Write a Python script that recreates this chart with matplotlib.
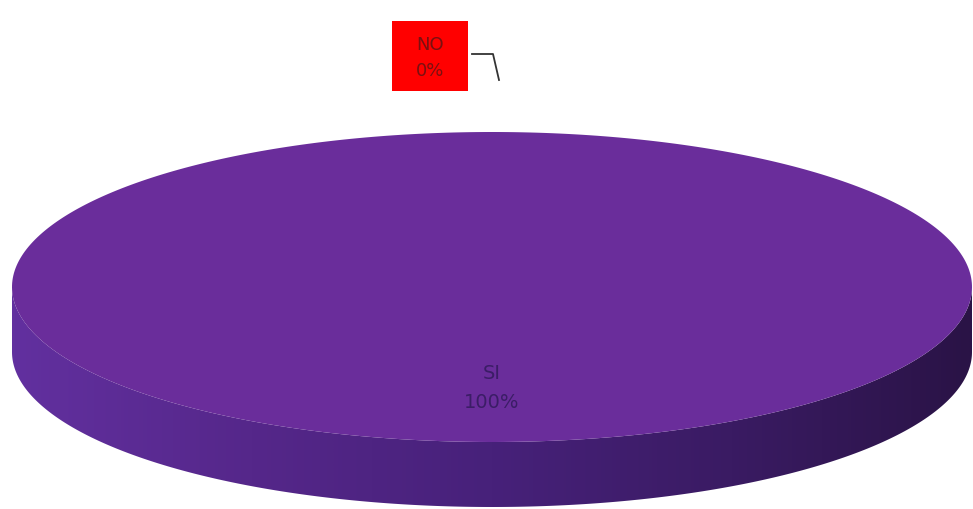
import numpy as np
import matplotlib
matplotlib.use("Agg")
import matplotlib.pyplot as plt
from matplotlib.patches import Polygon, PathPatch, Rectangle
from matplotlib.path import Path
from matplotlib.colors import LinearSegmentedColormap

labels = ["SI", "NO"]
values = [100, 0]
colors = ["#6a2d9b", "#ff0000"]

W, H = 973, 510
fig = plt.figure(figsize=(W / 100, H / 100), dpi=100)
ax = fig.add_axes([0, 0, 1, 1])
ax.set_xlim(0, W)
ax.set_ylim(H, 0)
ax.axis("off")

cx, cy, rx, ry, depth = 492, 288, 480, 155, 65

total = sum(values)
fracs = [v / total for v in values]

# side (front half of the cylinder wall)
t = np.linspace(0, np.pi, 300)
xs = cx + rx * np.cos(t)
ys_top = cy + ry * np.sin(t)
ys_bot = ys_top + depth
verts = np.vstack([np.column_stack([xs, ys_top]), np.column_stack([xs[::-1], ys_bot[::-1]])])
side_path = Path(np.vstack([verts, verts[:1]]), closed=True)
side_patch = PathPatch(side_path, facecolor="none", edgecolor="none")
ax.add_patch(side_patch)
cmap = LinearSegmentedColormap.from_list("side", ["#62309f", "#55278a", "#47217a", "#3a1b63", "#2a1346"])
grad = np.linspace(0, 1, 512).reshape(1, -1)
im = ax.imshow(grad, cmap=cmap, extent=[cx - rx, cx + rx, cy + ry + depth, cy], aspect="auto", zorder=1)
im.set_clip_path(side_patch)

# top face slices from values
start = np.pi / 2
for frac, col in zip(fracs, colors):
    if frac <= 0:
        continue
    th = np.linspace(start, start - 2 * np.pi * frac, 400)
    px = cx + rx * np.cos(th)
    py = cy - ry * np.sin(th)
    if frac < 1:
        px = np.concatenate([[cx], px])
        py = np.concatenate([[cy], py])
    ax.add_patch(Polygon(np.column_stack([px, py]), closed=True, facecolor=col, edgecolor="none", zorder=2))
    start -= 2 * np.pi * frac

fam = ["DejaVu Sans"]
ax.text(cx, 388, f"{labels[0]}\n{values[0]}%", ha="center", va="center", fontsize=14,
        color="#3b1d66", family=fam, linespacing=1.7, zorder=3)

ax.add_patch(Rectangle((392, 22), 76, 70, facecolor=colors[1], edgecolor="none", zorder=2))
ax.text(430, 58, f"{labels[1]}\n{values[1]}%", ha="center", va="center", fontsize=13,
        color="#7a1010", family=fam, linespacing=1.6, zorder=3)
ax.plot([472, 493, 499], [55, 55, 81], color="#333333", lw=1.3, zorder=3)

fig.savefig("out.png", dpi=100)
